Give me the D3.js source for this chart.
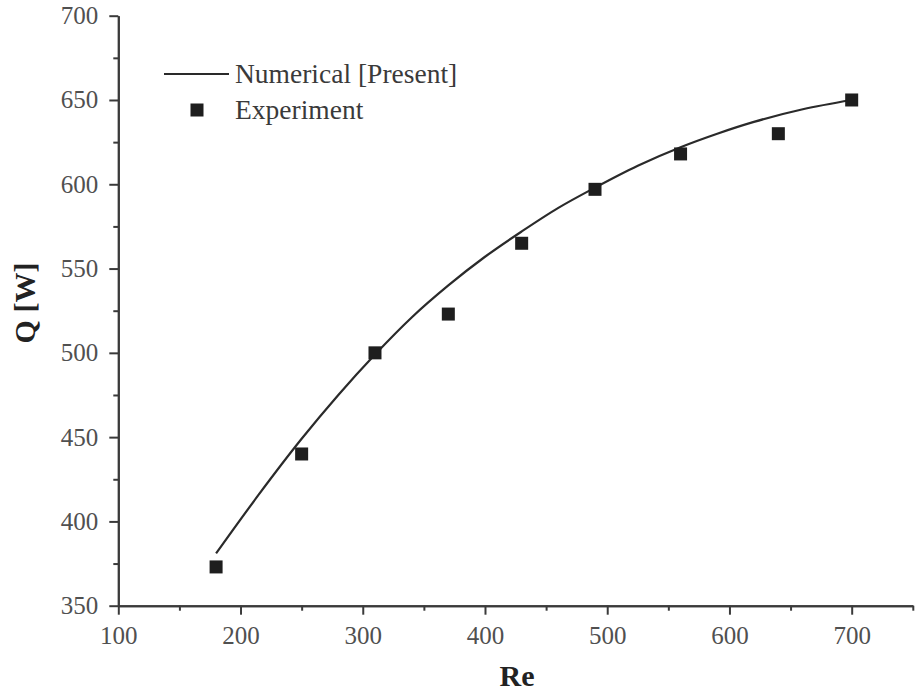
<!DOCTYPE html>
<html>
<head>
<meta charset="utf-8">
<script src="https://cdn.jsdelivr.net/npm/d3@7"></script>
<style>
  html, body { margin: 0; padding: 0; background: #fff; }
  svg { display: block; }
</style>
</head>
<body>
<svg id="chart" width="915" height="695"></svg>
<script>
// ---- data ----
const curveRe = [180, 215, 250, 280, 310, 340, 370, 400, 430, 460, 490, 525, 560, 590, 620, 660, 700];
const curveQ  = [381, 416, 449, 475, 499, 521, 540, 557, 572, 586, 598, 611, 622, 630, 637, 644.5, 650];
const expRe = [180, 250, 310, 370, 430, 490, 560, 640, 700];
const expQ  = [373, 440, 500, 523, 565, 597, 618, 630, 650];
const xTicks = [100, 200, 300, 400, 500, 600, 700];
const xMinor = [150, 250, 350, 450, 550, 650, 750];
const yTicks = [350, 400, 450, 500, 550, 600, 650, 700];
const yMinor = [375, 425, 475, 525, 575, 625, 675];
const legendLabels = ["Numerical [Present]", "Experiment"];

const svg = d3.select("#chart");
const x = d3.scaleLinear().domain([100, 750]).range([118.3, 912.8]);
const y = d3.scaleLinear().domain([350, 700]).range([605.7, 15.7]);

const axisColor = "#3a3a3a";
const serif = "'Liberation Serif', 'Times New Roman', serif";

// axes
const gx = svg.append("g").attr("transform", `translate(0,${y(350)})`)
  .call(d3.axisBottom(x).tickValues(xTicks).tickSize(9).tickSizeOuter(0).tickPadding(8));
const gxm = svg.append("g").attr("transform", `translate(0,${y(350)})`)
  .call(d3.axisBottom(x).tickValues(xMinor).tickSize(5).tickSizeOuter(0).tickFormat(""));
const gy = svg.append("g").attr("transform", `translate(${x(100)},0)`)
  .call(d3.axisLeft(y).tickValues(yTicks).tickSize(9).tickSizeOuter(0).tickPadding(11));
const gym = svg.append("g").attr("transform", `translate(${x(100)},0)`)
  .call(d3.axisLeft(y).tickValues(yMinor).tickSize(5).tickSizeOuter(0).tickFormat(""));

[gx, gxm, gy, gym].forEach(g => {
  g.select(".domain").attr("stroke", axisColor).attr("stroke-width", 2);
  g.selectAll(".tick line").attr("stroke", axisColor).attr("stroke-width", 2);
  g.selectAll("text").attr("font-family", serif).attr("font-size", 25).attr("fill", "#505050");
});
gx.selectAll("text").attr("dy", "0.85em");

// axis titles
svg.append("text").attr("x", 517).attr("y", 686).attr("text-anchor", "middle")
  .attr("font-family", serif).attr("font-weight", "bold").attr("font-size", 30).attr("fill", "#222")
  .text("Re");
svg.append("text").attr("transform", "translate(35,303) rotate(-90)").attr("text-anchor", "middle")
  .attr("font-family", serif).attr("font-weight", "bold").attr("font-size", 30).attr("fill", "#222")
  .text("Q [W]");

// numerical curve
const line = d3.line().x((d, i) => x(curveRe[i])).y(d => y(d)).curve(d3.curveMonotoneX);
svg.append("path").datum(curveQ).attr("d", line)
  .attr("fill", "none").attr("stroke", "#2a2a2a").attr("stroke-width", 2.2);

// experiment squares
const sq = 13;
svg.append("g").selectAll("rect").data(expQ).join("rect")
  .attr("x", (d, i) => x(expRe[i]) - sq / 2)
  .attr("y", d => y(d) - sq / 2)
  .attr("width", sq).attr("height", sq)
  .attr("fill", "#1e1e1e");

// legend
const lg = svg.append("g");
lg.append("line").attr("x1", 164).attr("x2", 229).attr("y1", 74).attr("y2", 74)
  .attr("stroke", "#2a2a2a").attr("stroke-width", 2.2);
lg.append("rect").attr("x", 197 - sq / 2).attr("y", 110 - sq / 2).attr("width", sq).attr("height", sq)
  .attr("fill", "#1e1e1e");
lg.selectAll("text").data(legendLabels).join("text")
  .attr("x", 235).attr("y", (d, i) => 83 + i * 36)
  .attr("font-family", serif).attr("font-size", 27.5).attr("fill", "#3a3a3a")
  .text(d => d);
</script>
</body>
</html>
